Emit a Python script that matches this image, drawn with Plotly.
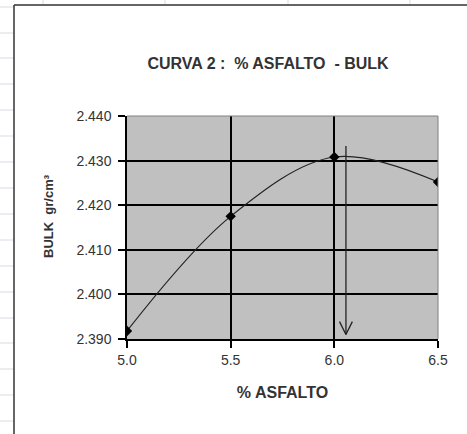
import plotly.graph_objects as go

# datos de la curva 2 (% asfalto vs bulk)
asfalto = [5.0, 5.5, 6.0, 6.5]
bulk = [2.3918, 2.4175, 2.4308, 2.4252]

# flecha del optimo
flecha_x = 6.056
flecha_top = 2.4333
flecha_bottom = 2.3910

W, H = 467, 434
L, R, T, B = 127, 438, 116, 339  # area del grafico en pixeles


def px_x(p):
    return (p - L) / (R - L)


def px_y(p):
    return (B - p) / (B - T)


fig = go.Figure()
fig.add_trace(go.Scatter(
    x=asfalto, y=bulk, mode="lines+markers",
    line=dict(color="#222", width=1.2, shape="spline", smoothing=1),
    marker=dict(symbol="diamond", size=8, color="black"),
    showlegend=False))

# flecha vertical con punta abierta
fig.add_trace(go.Scatter(
    x=[flecha_x, flecha_x], y=[flecha_top, flecha_bottom], mode="lines",
    line=dict(color="#222", width=1.3), showlegend=False))
fig.add_trace(go.Scatter(
    x=[flecha_x - 0.031, flecha_x, flecha_x + 0.031],
    y=[flecha_bottom + 0.0029, flecha_bottom, flecha_bottom + 0.0029],
    mode="lines", line=dict(color="#222", width=1.3), showlegend=False))

shapes = []
grid = dict(color="#d6dbe3", width=1)
# lineas de la hoja de calculo (fuera del marco)
for yy in [7, 33, 58, 84, 110, 136, 162, 188, 214, 240, 266, 292, 318, 343, 369, 395, 421]:
    shapes.append(dict(type="line", xref="paper", yref="paper",
                       x0=px_x(0), x1=px_x(14), y0=px_y(yy), y1=px_y(yy), line=grid))
for xx in [43, 165, 288, 410]:
    shapes.append(dict(type="line", xref="paper", yref="paper",
                       x0=px_x(xx), x1=px_x(xx), y0=px_y(0), y1=px_y(5), line=grid))
# marco del grafico
shapes.append(dict(type="line", xref="paper", yref="paper",
                   x0=px_x(14), x1=px_x(14), y0=px_y(5), y1=px_y(440),
                   line=dict(color="#333", width=1.5)))
shapes.append(dict(type="line", xref="paper", yref="paper",
                   x0=px_x(14), x1=px_x(470), y0=px_y(5), y1=px_y(5),
                   line=dict(color="#333", width=1.5)))
# borde superior/derecho del area de trazado
shapes.append(dict(type="line", xref="paper", yref="paper", x0=0, x1=1, y0=1, y1=1,
                   line=dict(color="#808080", width=1)))
shapes.append(dict(type="line", xref="paper", yref="paper", x0=1, x1=1, y0=0, y1=1,
                   line=dict(color="#808080", width=1)))

fig.update_layout(
    width=W, height=H,
    margin=dict(l=L, r=W - R, t=T, b=H - B),
    paper_bgcolor="white", plot_bgcolor="#c0c0c0",
    font=dict(family="Liberation Sans, Arial", size=14, color="#333"),
    title=dict(text="<b>CURVA 2 :\u00a0\u00a0% ASFALTO\u00a0\u00a0- BULK</b>",
               xref="container", x=268 / W, xanchor="center",
               y=1 - 63 / H, yanchor="middle", font=dict(size=16, color="#333")),
    shapes=shapes,
    annotations=[dict(text="<b>BULK\u00a0\u00a0gr/cm³</b>", xref="paper", yref="paper",
                      x=px_x(48), y=px_y(216), textangle=-90, showarrow=False,
                      xanchor="center", yanchor="middle",
                      font=dict(size=13, color="#333"))],
)
fig.update_xaxes(
    range=[5.0, 6.5], tickvals=[5.0, 5.5, 6.0, 6.5], tickformat=".1f",
    showgrid=True, gridcolor="black", gridwidth=1.5, zeroline=False,
    showline=True, linecolor="black", linewidth=1.5,
    ticks="outside", ticklen=7, tickcolor="black", tickwidth=1.5,
    title=dict(text="<b>% ASFALTO</b>", standoff=20, font=dict(size=16)))
fig.update_yaxes(
    range=[2.390, 2.440], dtick=0.01, tickformat=".3f",
    showgrid=True, gridcolor="black", gridwidth=1.5, zeroline=False,
    showline=True, linecolor="black", linewidth=1.5,
    ticks="outside", ticklen=7, tickcolor="black", tickwidth=1.5,
    ticklabelstandoff=4)

fig.write_html("out.html", config={"displayModeBar": False},
               post_script="document.body.style.margin='0';")
